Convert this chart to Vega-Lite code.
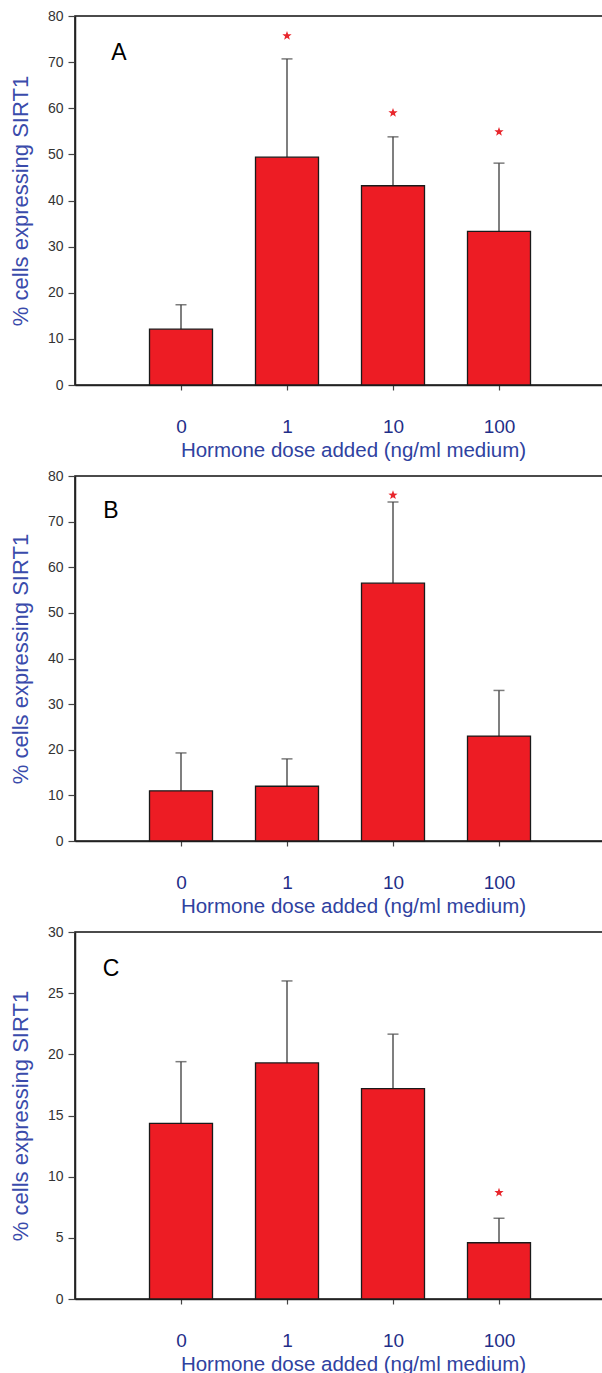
{
  "$schema": "https://vega.github.io/schema/vega-lite/v6.json",
  "background": "white",
  "padding": {"left": 8, "top": 8, "right": 0, "bottom": 0},
  "spacing": 6,
  "config": {
    "font": "Liberation Sans",
    "view": {"stroke": "#111", "strokeWidth": 1.6},
    "axis": {"grid": false, "titleFontWeight": "normal", "domainColor": "#222", "domainWidth": 1.5, "tickColor": "#444", "tickWidth": 1.2},
    "axisY": {"labelFontSize": 14, "labelColor": "#333", "tickSize": 7, "labelPadding": 5, "titleColor": "#3a4bab", "titleFontSize": 22, "titlePadding": 15},
    "axisX": {"labelFontSize": 19, "labelColor": "#1f2e88", "tickSize": 5, "labelPadding": 27, "labelAngle": 0, "titleFontSize": 20.5, "titleColor": "#2f42a0", "titlePadding": 4, "titleX": 278}
  },
  "datasets": {
    "bars": [
      {"panel": "A", "dose": "0", "mean": 12.1, "upper": 17.4, "star": null},
      {"panel": "A", "dose": "1", "mean": 49.4, "upper": 70.7, "star": 75.7},
      {"panel": "A", "dose": "10", "mean": 43.2, "upper": 53.8, "star": 59.0},
      {"panel": "A", "dose": "100", "mean": 33.3, "upper": 48.1, "star": 54.9},
      {"panel": "B", "dose": "0", "mean": 11.0, "upper": 19.3, "star": null},
      {"panel": "B", "dose": "1", "mean": 12.0, "upper": 18.0, "star": null},
      {"panel": "B", "dose": "10", "mean": 56.5, "upper": 74.3, "star": 75.8},
      {"panel": "B", "dose": "100", "mean": 23.0, "upper": 33.0, "star": null},
      {"panel": "C", "dose": "0", "mean": 14.35, "upper": 19.4, "star": null},
      {"panel": "C", "dose": "1", "mean": 19.3, "upper": 26.0, "star": null},
      {"panel": "C", "dose": "10", "mean": 17.2, "upper": 21.65, "star": null},
      {"panel": "C", "dose": "100", "mean": 4.6, "upper": 6.6, "star": 8.7}
    ]
  },
  "vconcat": [
    {
      "width": 530, "height": 369,
      "encoding": {"x": {"field": "dose", "type": "ordinal", "scale": {"type": "point", "domain": ["0", "1", "10", "100"], "padding": 1}, "axis": {"title": "Hormone dose added (ng/ml medium)"}}},
      "layer": [
        {"data": {"name": "bars"}, "transform": [{"filter": "datum.panel === 'A'"}],
         "mark": {"type": "rule", "color": "#555", "strokeWidth": 1.5},
         "encoding": {"y": {"field": "mean", "type": "quantitative", "scale": {"domain": [0, 80], "nice": false}, "axis": {"title": "% cells expressing SIRT1", "values": [0,10,20,30,40,50,60,70,80]}}, "y2": {"field": "upper"}}},
        {"data": {"name": "bars"}, "transform": [{"filter": "datum.panel === 'A'"}],
         "mark": {"type": "tick", "color": "#444", "size": 11, "thickness": 1.5},
         "encoding": {"y": {"field": "upper", "type": "quantitative", "scale": {"domain": [0, 80], "nice": false}, "axis": {"title": "% cells expressing SIRT1", "values": [0,10,20,30,40,50,60,70,80]}}}},
        {"data": {"name": "bars"}, "transform": [{"filter": "datum.panel === 'A'"}],
         "mark": {"type": "bar", "width": 63, "fill": "#ed1c24", "stroke": "#1a1a1a", "strokeWidth": 1.3},
         "encoding": {"y": {"field": "mean", "type": "quantitative", "scale": {"domain": [0, 80], "nice": false}, "axis": {"title": "% cells expressing SIRT1", "values": [0,10,20,30,40,50,60,70,80]}}}},
        {"data": {"name": "bars"}, "transform": [{"filter": "datum.panel === 'A' && isValid(datum.star)"}],
         "mark": {"type": "point", "shape": "M0,-1L0.24,-0.33L0.95,-0.31L0.39,0.13L0.59,0.81L0,0.41L-0.59,0.81L-0.39,0.13L-0.95,-0.31L-0.24,-0.33Z", "filled": true, "color": "#e8262c", "size": 95, "opacity": 1},
         "encoding": {"y": {"field": "star", "type": "quantitative", "scale": {"domain": [0, 80], "nice": false}, "axis": {"title": "% cells expressing SIRT1", "values": [0,10,20,30,40,50,60,70,80]}}}},
        {"data": {"values": [{"label": "A"}]},
         "mark": {"type": "text", "fontSize": 23, "color": "#000", "dx": -62, "baseline": "middle"},
         "encoding": {"x": {"datum": "0"}, "y": {"datum": 72}, "text": {"field": "label"}}}
      ]
    },
    {
      "width": 530, "height": 365,
      "encoding": {"x": {"field": "dose", "type": "ordinal", "scale": {"type": "point", "domain": ["0", "1", "10", "100"], "padding": 1}, "axis": {"title": "Hormone dose added (ng/ml medium)"}}},
      "layer": [
        {"data": {"name": "bars"}, "transform": [{"filter": "datum.panel === 'B'"}],
         "mark": {"type": "rule", "color": "#555", "strokeWidth": 1.5},
         "encoding": {"y": {"field": "mean", "type": "quantitative", "scale": {"domain": [0, 80], "nice": false}, "axis": {"title": "% cells expressing SIRT1", "values": [0,10,20,30,40,50,60,70,80]}}, "y2": {"field": "upper"}}},
        {"data": {"name": "bars"}, "transform": [{"filter": "datum.panel === 'B'"}],
         "mark": {"type": "tick", "color": "#444", "size": 11, "thickness": 1.5},
         "encoding": {"y": {"field": "upper", "type": "quantitative", "scale": {"domain": [0, 80], "nice": false}, "axis": {"title": "% cells expressing SIRT1", "values": [0,10,20,30,40,50,60,70,80]}}}},
        {"data": {"name": "bars"}, "transform": [{"filter": "datum.panel === 'B'"}],
         "mark": {"type": "bar", "width": 63, "fill": "#ed1c24", "stroke": "#1a1a1a", "strokeWidth": 1.3},
         "encoding": {"y": {"field": "mean", "type": "quantitative", "scale": {"domain": [0, 80], "nice": false}, "axis": {"title": "% cells expressing SIRT1", "values": [0,10,20,30,40,50,60,70,80]}}}},
        {"data": {"name": "bars"}, "transform": [{"filter": "datum.panel === 'B' && isValid(datum.star)"}],
         "mark": {"type": "point", "shape": "M0,-1L0.24,-0.33L0.95,-0.31L0.39,0.13L0.59,0.81L0,0.41L-0.59,0.81L-0.39,0.13L-0.95,-0.31L-0.24,-0.33Z", "filled": true, "color": "#e8262c", "size": 95, "opacity": 1, "dx": -22},
         "encoding": {"y": {"field": "star", "type": "quantitative", "scale": {"domain": [0, 80], "nice": false}, "axis": {"title": "% cells expressing SIRT1", "values": [0,10,20,30,40,50,60,70,80]}}}},
        {"data": {"values": [{"label": "B"}]},
         "mark": {"type": "text", "fontSize": 23, "color": "#000", "dx": -70, "baseline": "middle"},
         "encoding": {"x": {"datum": "0"}, "y": {"datum": 72.3}, "text": {"field": "label"}}}
      ]
    },
    {
      "width": 530, "height": 367,
      "encoding": {"x": {"field": "dose", "type": "ordinal", "scale": {"type": "point", "domain": ["0", "1", "10", "100"], "padding": 1}, "axis": {"title": "Hormone dose added (ng/ml medium)"}}},
      "layer": [
        {"data": {"name": "bars"}, "transform": [{"filter": "datum.panel === 'C'"}],
         "mark": {"type": "rule", "color": "#555", "strokeWidth": 1.5},
         "encoding": {"y": {"field": "mean", "type": "quantitative", "scale": {"domain": [0, 30], "nice": false}, "axis": {"title": "% cells expressing SIRT1", "values": [0,5,10,15,20,25,30]}}, "y2": {"field": "upper"}}},
        {"data": {"name": "bars"}, "transform": [{"filter": "datum.panel === 'C'"}],
         "mark": {"type": "tick", "color": "#444", "size": 11, "thickness": 1.5},
         "encoding": {"y": {"field": "upper", "type": "quantitative", "scale": {"domain": [0, 30], "nice": false}, "axis": {"title": "% cells expressing SIRT1", "values": [0,5,10,15,20,25,30]}}}},
        {"data": {"name": "bars"}, "transform": [{"filter": "datum.panel === 'C'"}],
         "mark": {"type": "bar", "width": 63, "fill": "#ed1c24", "stroke": "#1a1a1a", "strokeWidth": 1.3},
         "encoding": {"y": {"field": "mean", "type": "quantitative", "scale": {"domain": [0, 30], "nice": false}, "axis": {"title": "% cells expressing SIRT1", "values": [0,5,10,15,20,25,30]}}}},
        {"data": {"name": "bars"}, "transform": [{"filter": "datum.panel === 'C' && isValid(datum.star)"}],
         "mark": {"type": "point", "shape": "M0,-1L0.24,-0.33L0.95,-0.31L0.39,0.13L0.59,0.81L0,0.41L-0.59,0.81L-0.39,0.13L-0.95,-0.31L-0.24,-0.33Z", "filled": true, "color": "#e8262c", "size": 95, "opacity": 1},
         "encoding": {"y": {"field": "star", "type": "quantitative", "scale": {"domain": [0, 30], "nice": false}, "axis": {"title": "% cells expressing SIRT1", "values": [0,5,10,15,20,25,30]}}}},
        {"data": {"values": [{"label": "C"}]},
         "mark": {"type": "text", "fontSize": 23, "color": "#000", "dx": -70, "baseline": "middle"},
         "encoding": {"x": {"datum": "0"}, "y": {"datum": 27.0}, "text": {"field": "label"}}}
      ]
    }
  ]
}
